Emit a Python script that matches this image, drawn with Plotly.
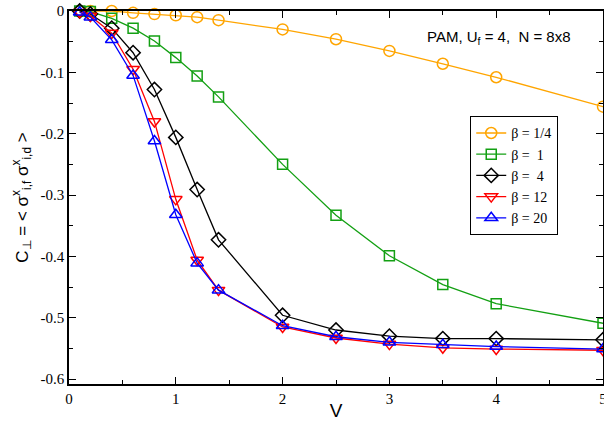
import plotly.graph_objects as go

V = [0.1, 0.2, 0.4, 0.6, 0.8, 1.0, 1.2, 1.4, 2.0, 2.5, 3.0, 3.5, 4.0, 5.0]

c_beta_quarter = [0.0, 0.0, 0.0, -0.003, -0.005, -0.007, -0.010, -0.015, -0.030, -0.046, -0.065, -0.086, -0.108, -0.156]
c_beta_1 = [0.0, -0.001, -0.012, -0.028, -0.049, -0.076, -0.106, -0.140, -0.250, -0.333, -0.399, -0.446, -0.477, -0.509]
c_beta_4 = [0.0, -0.005, -0.028, -0.068, -0.128, -0.206, -0.291, -0.373, -0.496, -0.520, -0.530, -0.534, -0.534, -0.536]
c_beta_12 = [-0.002, -0.008, -0.036, -0.095, -0.180, -0.307, -0.406, -0.455, -0.515, -0.533, -0.543, -0.549, -0.551, -0.553]
c_beta_20 = [-0.002, -0.010, -0.047, -0.105, -0.212, -0.332, -0.411, -0.455, -0.513, -0.531, -0.540, -0.544, -0.547, -0.551]

series_names = ["β = 1/4", "β =  1", "β =  4", "β = 12", "β = 20"]
series_values = [c_beta_quarter, c_beta_1, c_beta_4, c_beta_12, c_beta_20]
colors = ["#FFA500", "#13A013", "#000000", "#FF0000", "#0000FF"]
symbols = ["circle-open", "square-open", "diamond-open", "triangle-down-open", "triangle-up-open"]
sizes = [11, 10, 11, 11, 11]

x_tickvals = [0, 1, 2, 3, 4, 5]
x_ticktext = ["0", "1", "2", "3", "4", "5"]
y_tickvals = [0, -0.1, -0.2, -0.3, -0.4, -0.5, -0.6]
y_ticktext = ["0", "-0.1", "-0.2", "-0.3", "-0.4", "-0.5", "-0.6"]

fig = go.Figure()
for name, vals, col, sym, sz in zip(series_names, series_values, colors, symbols, sizes):
    fig.add_trace(go.Scatter(
        x=V, y=vals, name=name, mode="lines+markers",
        line=dict(color=col, width=1.3),
        marker=dict(symbol=sym, size=sz, color=col, line=dict(color=col, width=1.5)),
        cliponaxis=False,
    ))

axis_common = dict(
    showgrid=False, zeroline=False, showline=True, linecolor="black", linewidth=1.5,
    mirror="allticks", ticks="inside", ticklen=7, tickwidth=1.2, tickcolor="black",
    tickfont=dict(family="Liberation Serif", size=15, color="black"),
    automargin=False, ticklabeloverflow="allow",
)

fig.update_xaxes(
    range=[0, 5], tickvals=x_tickvals, ticktext=x_ticktext,
    minor=dict(ticks="inside", ticklen=4, dtick=0.5, tickcolor="black", tickwidth=1),
    title=dict(text="V", font=dict(family="Liberation Sans", size=19, color="black"), standoff=0),
    **axis_common,
)
fig.update_yaxes(
    range=[-0.608, 0], tickvals=y_tickvals, ticktext=y_ticktext,
    minor=dict(ticks="inside", ticklen=4, dtick=0.05, tickcolor="black", tickwidth=1),
    title=dict(text="C<sub>⊥</sub> = &lt; σ<sup>x</sup><sub>i,f</sub> σ<sup>x</sup><sub>i,d</sub> &gt;",
               font=dict(family="Liberation Sans", size=17, color="black"), standoff=8),
    **axis_common,
)

fig.add_annotation(
    x=0.944, y=0.93, xref="paper", yref="paper", xanchor="right", yanchor="middle",
    text="PAM, U<sub>f</sub> = 4,  N = 8x8", showarrow=False,
    font=dict(family="Liberation Sans", size=15, color="black"),
)

fig.update_layout(
    width=604, height=421,
    margin=dict(l=69, r=1, t=11, b=37),
    paper_bgcolor="white", plot_bgcolor="white",
    showlegend=True,
    legend=dict(
        x=0.751, y=0.718, xanchor="left", yanchor="top",
        bgcolor="white", bordercolor="black", borderwidth=1.2,
        font=dict(family="Liberation Serif", size=14, color="black"),
        itemwidth=30, tracegroupgap=0,
    ),
)

fig.write_html(
    "out.html",
    config={"displayModeBar": False},
    post_script="document.body.style.margin='0';document.documentElement.style.overflow='hidden';",
)
